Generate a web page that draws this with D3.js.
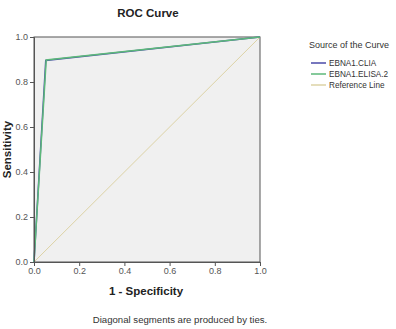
<!DOCTYPE html>
<html>
<head>
<meta charset="utf-8">
<script src="https://cdn.jsdelivr.net/npm/d3@7"></script>
<style>
  body { margin: 0; background: #fff; }
  text { font-family: "Liberation Sans", Arial, sans-serif; }
</style>
</head>
<body>
<svg id="drawing_region"></svg>
<script>
const ticks = [0, 0.2, 0.4, 0.6, 0.8, 1.0];
const series_names = ['EBNA1.CLIA', 'EBNA1.ELISA.2', 'Reference Line'];
const series_colors = ['#4a4aa8', '#5cb87a', '#ddd3a6'];
const clia = [[0, 0], [0.052, 0.896], [1, 1]];
const elisa = [[0, 0], [0.054, 0.898], [1, 1]];
const reference = [[0, 0], [1, 1]];

const width = 396, height = 329;
const margin = { top: 37, right: 136, bottom: 67, left: 34 };

const svg = d3.select('#drawing_region')
    .attr('width', width)
    .attr('height', height);

const inner_width = width - margin.left - margin.right;
const inner_height = height - margin.top - margin.bottom;

const chart = svg.append('g')
    .attr('transform', `translate(${margin.left}, ${margin.top})`);

const xscale = d3.scaleLinear().domain([0, 1]).range([0, inner_width]);
const yscale = d3.scaleLinear().domain([0, 1]).range([inner_height, 0]);

chart.append('rect')
    .attr('width', inner_width)
    .attr('height', inner_height)
    .attr('fill', '#f0f0f0')
    .attr('stroke', '#555')
    .attr('stroke-width', 1);

const line = d3.line().x(d => xscale(d[0])).y(d => yscale(d[1]));

chart.append('path').datum(reference)
    .attr('d', line).attr('fill', 'none')
    .attr('stroke', series_colors[2]).attr('stroke-width', 1);
chart.append('path').datum(clia)
    .attr('d', line).attr('fill', 'none')
    .attr('stroke', series_colors[0]).attr('stroke-width', 1.5);
chart.append('path').datum(elisa)
    .attr('d', line).attr('fill', 'none')
    .attr('stroke', series_colors[1]).attr('stroke-width', 1.5);

const xaxis = d3.axisBottom(xscale).tickValues(ticks).tickFormat(d3.format('.1f')).tickSize(4).tickPadding(2);
const yaxis = d3.axisLeft(yscale).tickValues(ticks).tickFormat(d3.format('.1f')).tickSize(4).tickPadding(2);

const xg = chart.append('g').attr('transform', `translate(0, ${inner_height})`).call(xaxis);
const yg = chart.append('g').call(yaxis);
[xg, yg].forEach(g => {
    g.select('.domain').attr('stroke', '#555');
    g.selectAll('.tick line').attr('stroke', '#555');
    g.selectAll('.tick text').attr('fill', '#555').attr('font-size', '9px')
        .style('font-family', '"Liberation Sans", Arial, sans-serif');
});

svg.append('text')
    .attr('x', margin.left + inner_width / 2 + 1).attr('y', 17)
    .attr('text-anchor', 'middle')
    .attr('font-size', '11.5px').attr('font-weight', 'bold').attr('fill', '#222')
    .text('ROC Curve');

svg.append('text')
    .attr('x', margin.left + inner_width / 2 - 1).attr('y', 295)
    .attr('text-anchor', 'middle')
    .attr('font-size', '11.5px').attr('font-weight', 'bold').attr('fill', '#222')
    .text('1 - Specificity');

svg.append('text')
    .attr('transform', `translate(11, ${margin.top + inner_height / 2}) rotate(-90)`)
    .attr('text-anchor', 'middle')
    .attr('font-size', '11.5px').attr('font-weight', 'bold').attr('fill', '#222')
    .text('Sensitivity');

svg.append('text')
    .attr('x', 180).attr('y', 323)
    .attr('text-anchor', 'middle')
    .attr('font-size', '9.6px').attr('fill', '#333')
    .text('Diagonal segments are produced by ties.');

const legend = svg.append('g').attr('transform', 'translate(309, 0)');
legend.append('text')
    .attr('x', 0).attr('y', 48)
    .attr('font-size', '9px').attr('fill', '#333')
    .text('Source of the Curve');

const items = legend.selectAll('g.item')
    .data(series_names)
    .enter()
    .append('g')
    .attr('transform', (d, i) => `translate(0, ${63 + i * 11})`);
items.append('line')
    .attr('x1', 2).attr('x2', 17).attr('y1', 0).attr('y2', 0)
    .attr('stroke', (d, i) => series_colors[i]).attr('stroke-width', 1.5);
items.append('text')
    .attr('x', 20).attr('y', 3)
    .attr('font-size', '8.2px').attr('fill', '#333')
    .text(d => d);
</script>
</body>
</html>
